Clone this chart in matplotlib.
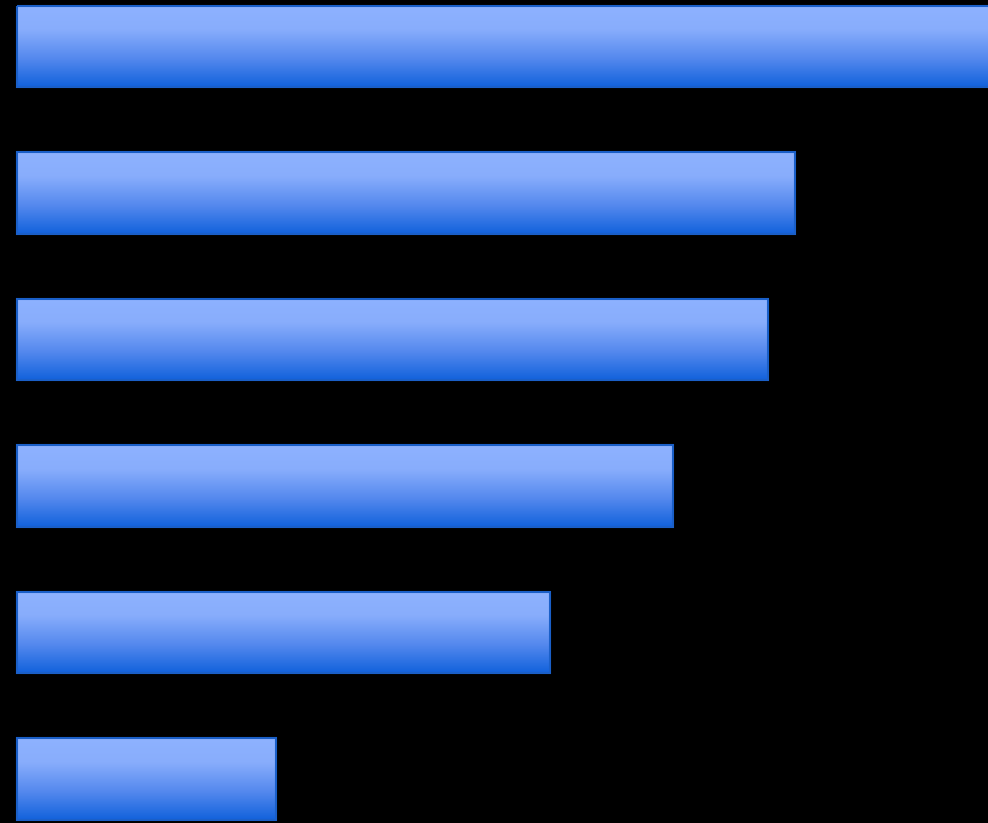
import matplotlib
matplotlib.use('Agg')
import matplotlib.pyplot as plt
from matplotlib.colors import LinearSegmentedColormap
import numpy as np

# Bar lengths (top to bottom), first bar runs past the right edge
categories = ['A', 'B', 'C', 'D', 'E', 'F']
values = [1000, 778, 751, 656, 533, 259]

bar_height = 0.558
grad = LinearSegmentedColormap.from_list(
    'bar_grad', [(0.0, '#8eb2ff'), (0.3, '#88adfc'), (0.65, '#5589ee'), (1.0, '#1262dc')])

fig = plt.figure(figsize=(9.88, 8.23), dpi=100, facecolor='black')
ax = fig.add_axes([0, 0, 1, 1])
ax.set_facecolor('black')

ypos = np.arange(len(categories))
gradient = np.linspace(0, 1, 256).reshape(-1, 1)

bars = ax.barh(ypos, values, height=bar_height, color='none',
               edgecolor='#1a5fc8', linewidth=1.5, zorder=3)

for bar, y, v in zip(bars, ypos, values):
    im = ax.imshow(gradient, cmap=grad, aspect='auto', interpolation='bicubic',
                   extent=(0, v, y + bar_height / 2, y - bar_height / 2), zorder=2)
    im.set_clip_path(bar)

ax.set_xlim(-17, 971)
ax.set_ylim(5.30, -0.317)
ax.axis('off')

fig.savefig('out.png', dpi=100, facecolor='black')
